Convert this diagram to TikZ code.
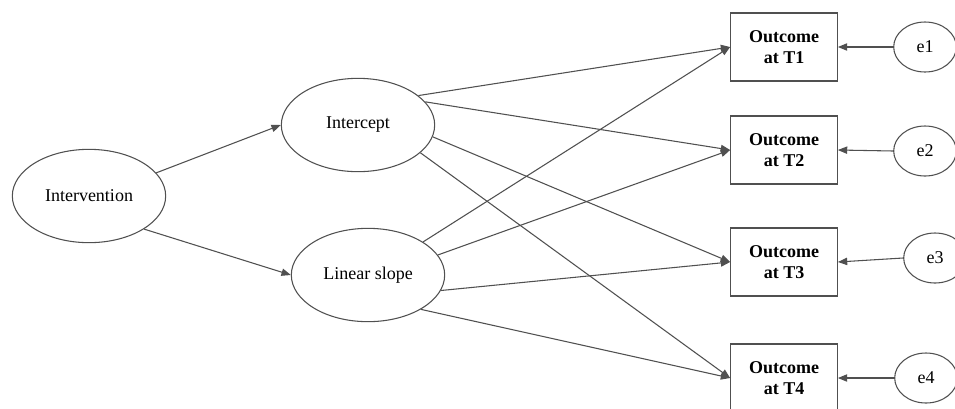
\documentclass[tikz,border=0pt]{standalone}
\usepackage{fontspec}
\setmainfont{Liberation Serif}
\usetikzlibrary{shapes,arrows.meta,positioning}
\definecolor{pathgray}{RGB}{80,80,80}

\begin{document}
\begin{tikzpicture}[x=0.75pt,y=-0.75pt,
  factor/.style={ellipse,draw=pathgray,line width=0.8pt,minimum width=115pt,minimum height=70pt,font=\fontsize{13.5}{16}\selectfont},
  outcome/.style={rectangle,draw=pathgray,line width=0.8pt,minimum width=80pt,minimum height=51pt,align=center,font=\fontsize{13.5}{16}\selectfont\bfseries},
  resid/.style={ellipse,draw=pathgray,line width=0.8pt,minimum width=47pt,minimum height=37.5pt,font=\fontsize{13.5}{16}\selectfont},
  effect/.style={-{Triangle[length=7pt,width=5.5pt]},draw=pathgray,line width=0.8pt}]
\useasboundingbox (0,0) rectangle (955,408);
% latent growth factors
\node[factor] (interv) at (89,196) {Intervention};
\node[factor] (icept) at (358,125) {Intercept};
\node[factor] (slope) at (368,275) {Linear slope};
% repeated outcomes and their residuals
\foreach \t/\y/\ex/\ey in {1/47/925/47,2/150/925/151,3/262/935/258,4/378/926/378}{
  \node[outcome] (t\t) at (784,\y) {Outcome\\at T\t};
  \node[resid] (e\t) at (\ex,\ey) {e\t};
  \draw[effect] (e\t.west) -- (t\t.east);
}
\draw[effect] (interv.19) -- (icept.west);
\draw[effect] (interv.-31) -- (slope.west);
\draw[effect] (icept.26) -- (t1.west);
\draw[effect] (icept.19) -- (t2.west);
\draw[effect] (icept.-9) -- (t3.west);
\draw[effect] (icept.-24) -- (t4.west);
\draw[effect] (slope.31) -- (t1.west);
\draw[effect] (slope.16) -- (t2.west);
\draw[effect] (slope.-12) -- (t3.west);
\draw[effect] (slope.-33) -- (t4.west);
\end{tikzpicture}
\end{document}
